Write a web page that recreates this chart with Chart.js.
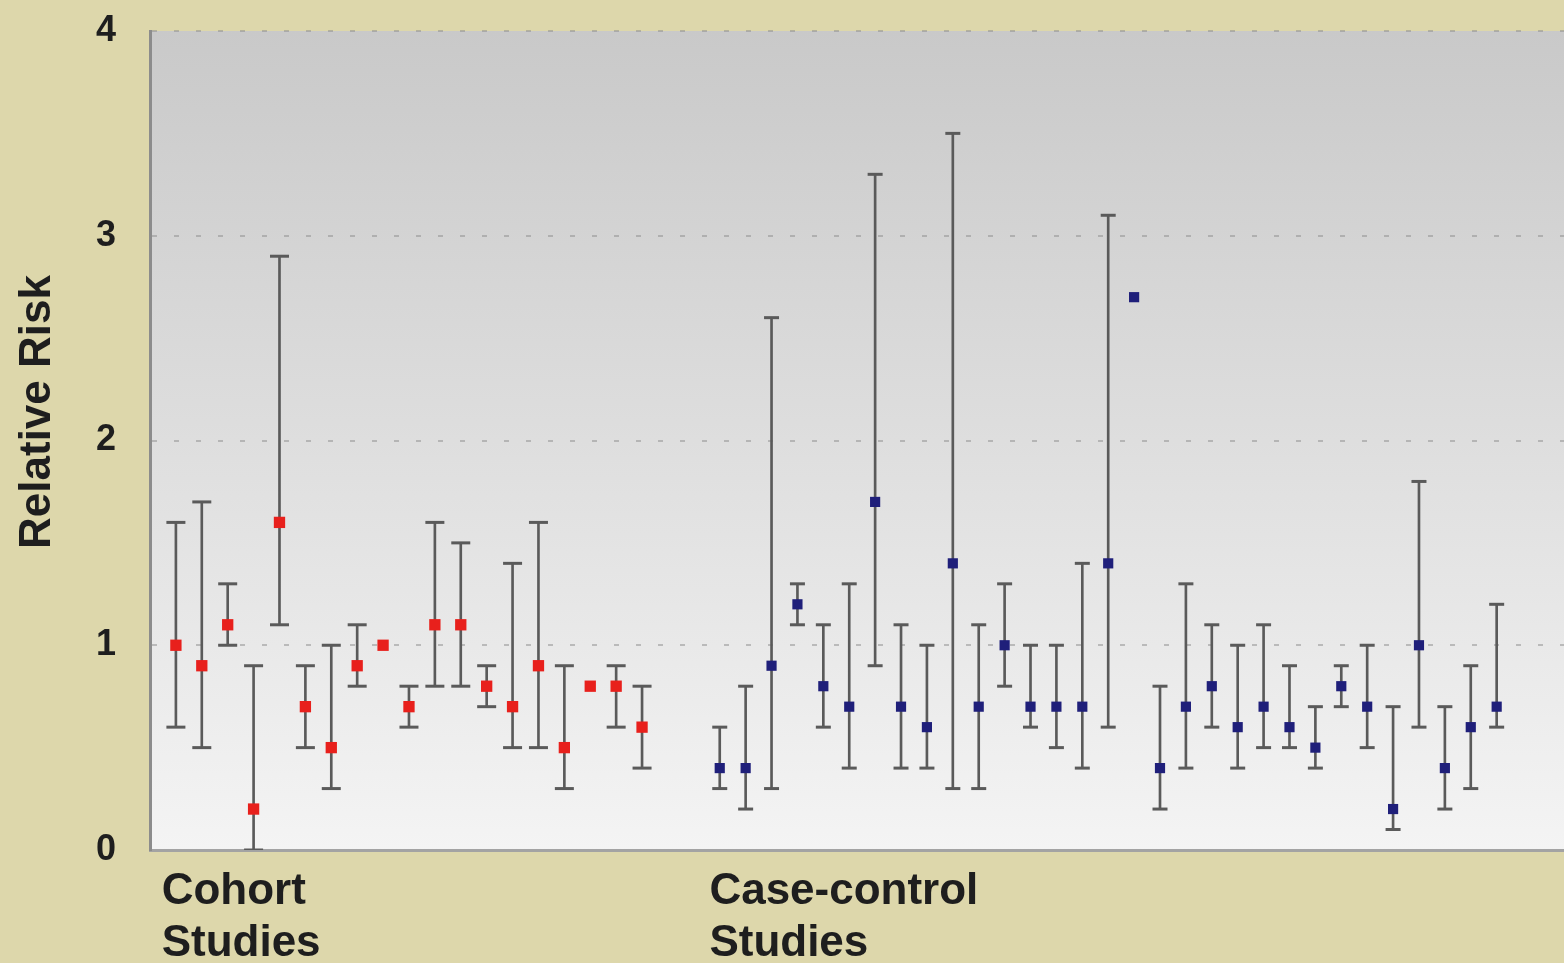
<!DOCTYPE html>
<html><head><meta charset="utf-8">
<script src="https://cdn.jsdelivr.net/npm/chart.js@4.4.1/dist/chart.umd.min.js"></script>
<style>html,body{margin:0;padding:0;background:#ddd7ab;overflow:hidden}canvas{display:block}</style>
</head><body>
<canvas id="c" width="1564" height="963"></canvas>
<script>
// ---- data ----
const yTitle = 'Relative Risk';
const groupLabels = [['Cohort', 'Studies'], ['Case-control', 'Studies']];
const groupLabelPos = [-0.55, 20.6];
const yTicks = [0, 1, 2, 3, 4];

const cohortRR = [1.0, 0.9, 1.1, 0.2, 1.6, 0.7, 0.5, 0.9, 1.0, 0.7, 1.1, 1.1, 0.8, 0.7, 0.9, 0.5, 0.8, 0.8, 0.6];
const cohortLo = [0.6, 0.5, 1.0, 0.0, 1.1, 0.5, 0.3, 0.8, null, 0.6, 0.8, 0.8, 0.7, 0.5, 0.5, 0.3, null, 0.6, 0.4];
const cohortHi = [1.6, 1.7, 1.3, 0.9, 2.9, 0.9, 1.0, 1.1, null, 0.8, 1.6, 1.5, 0.9, 1.4, 1.6, 0.9, null, 0.9, 0.8];

const caseRR = [0.4, 0.4, 0.9, 1.2, 0.8, 0.7, 1.7, 0.7, 0.6, 1.4, 0.7, 1.0, 0.7, 0.7, 0.7, 1.4, 2.7, 0.4, 0.7, 0.8, 0.6, 0.7, 0.6, 0.5, 0.8, 0.7, 0.2, 1.0, 0.4, 0.6, 0.7];
const caseLo = [0.3, 0.2, 0.3, 1.1, 0.6, 0.4, 0.9, 0.4, 0.4, 0.3, 0.3, 0.8, 0.6, 0.5, 0.4, 0.6, null, 0.2, 0.4, 0.6, 0.4, 0.5, 0.5, 0.4, 0.7, 0.5, 0.1, 0.6, 0.2, 0.3, 0.6];
const caseHi = [0.6, 0.8, 2.6, 1.3, 1.1, 1.3, 3.3, 1.1, 1.0, 3.5, 1.1, 1.3, 1.0, 1.0, 1.4, 3.1, null, 0.8, 1.3, 1.1, 1.0, 1.1, 0.9, 0.7, 0.9, 1.0, 0.7, 1.8, 0.7, 0.9, 1.2];

// ---- derived ----
const GAP = 2;
const caseStart = cohortRR.length + GAP;
const cohortX = cohortRR.map((_, i) => i);
const caseX = caseRR.map((_, i) => caseStart + i);

const pts = (xs, vals) => vals.map((v, i) => v == null ? null : ({x: xs[i], y: v})).filter(p => p);
const whisk = (xs, lo, hi) => lo.map((l, i) => l == null ? null : ({x: xs[i], y: [l, hi[i]]})).filter(p => p);

const FONT = '"Liberation Sans", Arial, Helvetica, sans-serif';
const TEXT = '#1e1e1e';
const BAR = '#5a5a5a';

const bgPlugin = {
  id: 'bg',
  beforeDraw(chart) {
    const {ctx, chartArea: a} = chart;
    ctx.save();
    ctx.fillStyle = '#ddd7ab';
    ctx.fillRect(0, 0, chart.width, chart.height);
    const g = ctx.createLinearGradient(0, a.top, 0, a.bottom);
    g.addColorStop(0, '#c9c9c9');
    g.addColorStop(0.5, '#dedede');
    g.addColorStop(1, '#f4f4f4');
    ctx.fillStyle = g;
    ctx.fillRect(a.left, a.top, a.right - a.left, a.bottom - a.top);
    ctx.restore();
  }
};
const titlePlugin = {
  id: 'ytitle',
  afterDraw(chart) {
    const c = chart.ctx;
    c.save();
    c.translate(50, 412);
    c.rotate(-Math.PI / 2);
    c.font = 'bold 44px ' + FONT;
    c.fillStyle = TEXT;
    c.textAlign = 'center';
    c.textBaseline = 'alphabetic';
    c.fillText(yTitle, 0, 0);
    c.restore();
  }
};

new Chart(document.getElementById('c'), {
  type: 'scatter',
  data: {
    datasets: [
      {label: 'Cohort', data: pts(cohortX, cohortRR), pointStyle: 'rect', pointRadius: 8, backgroundColor: '#e8201c', borderWidth: 0},
      {label: 'Case-control', data: pts(caseX, caseRR), pointStyle: 'rect', pointRadius: 7.2, backgroundColor: '#1f1f7a', borderWidth: 0},
      {label: 'cohort upper', data: pts(cohortX, cohortHi), pointStyle: 'line', pointRadius: 9.5, borderColor: BAR, borderWidth: 3},
      {label: 'cohort lower', data: pts(cohortX, cohortLo), pointStyle: 'line', pointRadius: 9.5, borderColor: BAR, borderWidth: 3},
      {label: 'case upper', data: pts(caseX, caseHi), pointStyle: 'line', pointRadius: 7.5, borderColor: BAR, borderWidth: 3},
      {label: 'case lower', data: pts(caseX, caseLo), pointStyle: 'line', pointRadius: 7.5, borderColor: BAR, borderWidth: 3},
      {type: 'bar', label: 'CI', data: whisk(cohortX, cohortLo, cohortHi).concat(whisk(caseX, caseLo, caseHi)), backgroundColor: BAR, borderWidth: 0, barThickness: 2, grouped: false}
    ]
  },
  options: {
    responsive: false,
    animation: false,
    devicePixelRatio: 1,
    layout: {autoPadding: false, padding: {top: 31, left: 0, right: 0, bottom: 0}},
    plugins: {legend: {display: false}, tooltip: {enabled: false}},
    scales: {
      x: {
        type: 'linear', min: -1, max: 53.6, offset: false,
        grid: {display: true, color: 'rgba(0,0,0,0)', drawTicks: false, drawOnChartArea: false},
        border: {display: true, color: '#a3a3a3', width: 3},
        afterBuildTicks: s => { s.ticks = groupLabelPos.map(v => ({value: v})); },
        ticks: {
          autoSkip: false, maxRotation: 0, minRotation: 0, align: 'start', padding: 15, color: TEXT,
          font: {family: FONT, size: 44, weight: 'bold', lineHeight: 1.2},
          callback: (v, i) => groupLabels[i]
        },
        afterFit: s => { s.height = 113; }
      },
      y: {
        type: 'linear', min: 0, max: 4,
        afterBuildTicks: s => { s.ticks = yTicks.map(v => ({value: v})); },
        grid: {color: c => (c.tick && c.tick.value === 0) ? 'rgba(0,0,0,0)' : 'rgba(140,140,140,0.5)', lineWidth: 2,
               drawTicks: true, tickLength: 34, tickColor: 'rgba(0,0,0,0)'},
        border: {display: true, color: '#8c8c8c', width: 3, dash: [5, 17]},
        ticks: {padding: 0, color: TEXT, font: {family: FONT, size: 36, weight: 'bold'}},
        afterFit: s => { s.width = 150; }
      }
    }
  },
  plugins: [bgPlugin, titlePlugin]
});
</script>
</body></html>
